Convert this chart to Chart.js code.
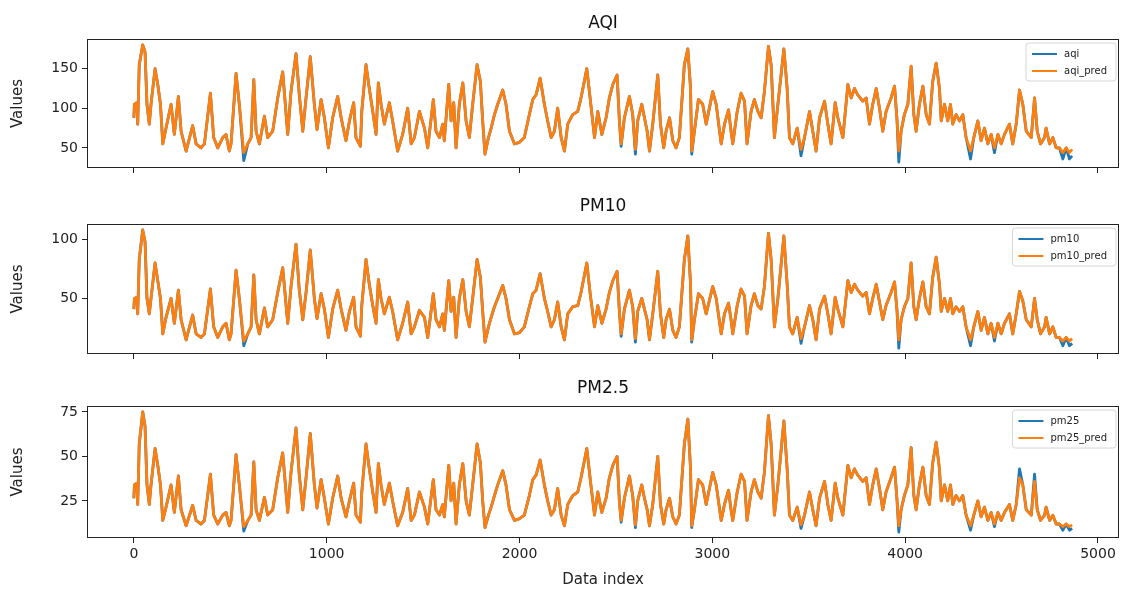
<!DOCTYPE html>
<html>
<head>
<meta charset="utf-8">
<script src="https://cdn.jsdelivr.net/npm/chart.js@4"></script>
<style>
  body { margin: 0; background: #fff; }
  .panel { position: absolute; left: 0; }
</style>
</head>
<body>
<canvas id="aqiChart" class="panel" width="1121" height="185" style="top:0px"></canvas>
<canvas id="pm10Chart" class="panel" width="1121" height="185" style="top:185px"></canvas>
<canvas id="pm25Chart" class="panel" width="1121" height="222" style="top:370px"></canvas>
<script>
// x positions (data index)
const dataIndex = [
  0,3,16,20,28,46,58,68,80,89,
  110,124,138,150,167,193,210,231,245,271,
  305,323,348,366,397,414,435,461,478,495,
  504,530,547,570,591,608,622,634,651,677,
  694,720,746,772,798,815,841,858,876,893,
  915,936,950,971,988,1009,1031,1057,1075,1100,
  1118,1140,1152,1175,1182,1204,1221,1239,1256,1268,
  1282,1299,1325,1342,1368,1394,1420,1438,1455,1481,
  1507,1524,1553,1567,1585,1602,1610,1633,1645,1659,
  1671,1688,1706,1723,1740,1757,1780,1797,1809,1821,
  1839,1853,1870,1887,1913,1930,1948,1974,2000,2025,
  2051,2069,2086,2107,2129,2146,2164,2181,2198,2216,
  2233,2250,2276,2302,2319,2349,2368,2389,2406,2427,
  2449,2466,2484,2506,2518,2527,2544,2570,2587,2601,
  2613,2634,2648,2662,2674,2691,2717,2731,2748,2760,
  2778,2795,2812,2829,2855,2873,2887,2893,2907,2928,
  2950,2968,3002,3020,3046,3063,3084,3097,3106,3129,
  3149,3167,3180,3201,3218,3236,3253,3270,3291,3305,
  3322,3340,3371,3388,3400,3417,3440,3460,3478,3504,
  3521,3538,3556,3582,3599,3616,3637,3651,3677,3703,
  3720,3737,3754,3780,3798,3815,3832,3850,3867,3884,
  3901,3927,3945,3958,3967,3979,3996,4014,4031,4045,
  4057,4074,4092,4109,4126,4143,4161,4178,4187,4204,
  4221,4235,4247,4264,4282,4299,4316,4339,4356,4377,
  4394,4411,4429,4446,4463,4481,4498,4515,4541,4558,
  4576,4593,4610,4628,4654,4671,4685,4702,4723,4731,
  4749,4766,4783,4800,4818,4835,4852,4866
];

const aqi = [
  88,105,107,80,155,180,171,105,80,105,
  150,130,105,55,75,105,67,115,71,46,
  78,55,50,55,119,63,50,63,67,46,
  55,144,105,34,55,63,136,71,55,90,
  63,71,113,146,67,121,169,117,71,113,
  165,105,73,111,88,50,88,115,88,59,
  84,107,63,52,96,155,125,96,67,132,
  105,80,107,84,46,67,100,55,63,96,
  75,50,111,71,63,80,59,130,84,107,
  50,105,132,84,63,105,155,134,84,42,
  63,75,92,105,123,105,71,55,57,63,
  92,111,117,138,105,84,63,71,100,63,
  46,80,92,96,113,150,109,63,96,67,
  88,113,130,142,84,52,88,115,92,42,
  84,105,88,71,46,80,142,80,50,71,
  88,59,50,63,155,175,125,42,71,111,
  105,80,121,105,55,80,98,71,55,96,
  119,109,55,96,111,96,88,121,178,155,
  63,105,175,125,63,55,75,40,63,96,
  71,46,88,109,80,55,107,88,63,130,
  113,125,117,109,113,80,105,125,100,71,
  96,113,128,84,32,71,92,105,153,92,
  71,105,128,92,80,134,157,125,84,105,
  84,105,80,92,84,92,63,36,63,84,
  59,75,55,67,44,67,55,67,80,55,
  80,123,105,71,63,113,71,55,63,75,
  55,63,50,50,36,50,36,40
];
// where the prediction stays above the actual dips: [data index, value]
const aqiPredDiff = [[570,44],[2527,55],[2601,48],[2893,46],[3460,48],[3967,46],[4339,46],[4463,50],[4818,44],[4852,44],[4866,48]];

const pm10 = [
  41,50,51,37,83,108,98,50,37,50,
  80,65,50,20,34,50,29,57,32,15,
  36,20,17,20,58,26,17,26,29,15,
  20,74,50,10,20,26,70,32,20,42,
  26,32,55,76,29,60,96,57,32,55,
  91,50,33,54,41,17,41,57,41,23,
  39,51,26,18,44,83,62,44,29,66,
  50,37,51,39,15,29,47,20,26,40,
  34,17,54,32,26,37,23,65,39,51,
  17,50,66,39,26,50,83,68,39,13,
  26,34,43,50,61,50,32,20,21,26,
  43,54,57,71,50,39,26,32,47,26,
  15,37,43,44,55,80,52,26,44,29,
  41,55,65,73,39,18,41,57,43,13,
  39,50,41,32,15,37,73,37,17,32,
  41,23,17,26,83,103,62,13,32,54,
  50,37,60,50,20,37,46,32,20,44,
  58,52,20,44,54,44,41,60,105,83,
  26,50,103,62,26,20,34,12,26,44,
  32,15,41,52,37,20,51,41,26,65,
  55,62,57,52,55,37,50,62,47,32,
  44,55,64,39,8,32,43,50,80,43,
  32,50,64,43,37,68,85,62,39,50,
  39,50,37,43,39,43,26,10,26,39,
  23,34,20,29,14,29,20,29,37,20,
  37,56,48,32,26,50,32,20,26,34,
  20,26,17,17,10,17,10,12
];
const pm10PredDiff = [[570,14],[2527,20],[2601,16],[2893,15],[3460,16],[3967,15],[4339,15],[4463,17],[4818,14],[4852,14],[4866,16]];

const pm25 = [
  26.5,34,35,23,57,75,67,34,23,34,
  54.5,45,34,14,21.5,34,18.5,39,20,11,
  22.5,14,12,14,40,17,12,17,18.5,11,
  14,51,34,8,14,17,47,20,14,27,
  17,20,38,52,18.5,41,66,39.5,20,38,
  63,34,21,37,26.5,12,26.5,39,26.5,16,
  25,35,17,13,30,57,43,30,18.5,46,
  34,23,35,25,11,18.5,32,14,17,30,
  21.5,12,37,20,17,23,16,45,25,35,
  12,34,46,25,17,34,57,46.5,25,10,
  17,21.5,28,34,42,34,20,14,15,17,
  28,37,39.5,48,34,25,17,20,32,17,
  11,23,28,30,38,54.5,36,17,30,18.5,
  26.5,38,45,50,25,13,26.5,39,28,10,
  25,34,26.5,20,11,23,50,23,12,20,
  26.5,16,12,17,57,71,43,10,20,37,
  34,23,41,34,14,23,31,20,14,30,
  40,36,14,30,37,30,26.5,41,73,57,
  17,34,70,43,17,14,21.5,9.5,17,30,
  20,11,26.5,36,23,14,35,26.5,17,45,
  38,43,39.5,36,38,23,34,43,32,20,
  30,38,44,25,7.5,20,28,34,55,28,
  20,34,44,28,23,46.5,58,43,25,34,
  25,34,23,28,25,28,17,8.5,17,25,
  16,21.5,14,18.5,10.5,18.5,14,18.5,23,14,
  23,43,34,20,17,40,20,14,17,21.5,
  14,17,12,12,8.5,12,8.5,9.5
];
const pm25PredDiff = [[570,10.5],[2527,14],[2601,11.5],[2893,11],[3460,11.5],[3967,11],[4339,11],[4463,12],[4593,38],[4671,36],[4818,10.5],[4852,10.5],[4866,11.5]];

const xTicks = [0, 1000, 2000, 3000, 4000, 5000];
const aqiTicks = [50, 100, 150];
const pm10Ticks = [50, 100];
const pm25Ticks = [25, 50, 75];

const BLUE = '#1f77b4';
const ORANGE = '#ff7f0e';
const FONT = 'DejaVu Sans';

function points(vals, diff) {
  const fix = new Map(diff);
  return dataIndex.map((x, i) => ({ x: x, y: fix.has(x) ? fix.get(x) : vals[i] }));
}

function yRange(a, b) {
  let lo = Math.min(...a), hi = Math.max(...a);
  b.forEach(p => { lo = Math.min(lo, p.y); hi = Math.max(hi, p.y); });
  const m = (hi - lo) * 0.05;
  return [lo - m, hi + m];
}

// frame, title and the small legend inside the axes, matplotlib style
const panelDecor = {
  id: 'panelDecor',
  afterDraw(chart, args, opts) {
    const { ctx, chartArea: a } = chart;
    ctx.save();
    ctx.strokeStyle = '#222';
    ctx.lineWidth = 1;
    ctx.strokeRect(a.left + 0.5, a.top + 0.5, a.right - a.left - 1, a.bottom - a.top - 1);

    ctx.fillStyle = '#111';
    ctx.font = '17px "' + FONT + '"';
    ctx.textAlign = 'center';
    ctx.textBaseline = 'middle';
    ctx.fillText(opts.title, (a.left + a.right) / 2, a.top - opts.titleGap);

    ctx.font = '10px "' + FONT + '"';
    const tw = Math.max(...opts.names.map(n => ctx.measureText(n).width));
    const w = 8 + 25 + 8 + tw + 6, h = 38;
    const x0 = a.right - 3 - w, y0 = a.top + 4;
    ctx.beginPath();
    ctx.roundRect(x0, y0, w, h, 3);
    ctx.fillStyle = 'rgba(255,255,255,0.8)';
    ctx.fill();
    ctx.strokeStyle = '#d6d6d6';
    ctx.stroke();
    ctx.textAlign = 'left';
    [BLUE, ORANGE].forEach((c, i) => {
      const yy = y0 + 11 + i * 17;
      ctx.strokeStyle = c;
      ctx.lineWidth = 2;
      ctx.beginPath();
      ctx.moveTo(x0 + 6, yy);
      ctx.lineTo(x0 + 31, yy);
      ctx.stroke();
      ctx.fillStyle = '#222';
      ctx.fillText(opts.names[i], x0 + 38, yy);
    });
    ctx.restore();
  }
};

function makePanel(id, title, actual, predDiff, names, yTicks, showX, padTop, xHeight, titleGap) {
  const actualPts = points(actual, []);
  const predPts = points(actual, predDiff);
  const range = yRange(actual, predPts);
  const tickFont = { family: FONT, size: 14 };
  return new Chart(document.getElementById(id), {
    type: 'line',
    data: {
      datasets: [
        { label: names[0], data: actualPts, borderColor: BLUE, borderWidth: 2.8, order: 2 },
        { label: names[1], data: predPts, borderColor: ORANGE, borderWidth: 2.8, order: 1 }
      ]
    },
    options: {
      responsive: false,
      animation: false,
      devicePixelRatio: 1,
      parsing: false,
      elements: { point: { radius: 0 }, line: { tension: 0, borderJoinStyle: 'round' } },
      layout: { padding: { top: padTop, right: 2, left: 0, bottom: 0 } },
      plugins: {
        legend: { display: false },
        tooltip: { enabled: false },
        panelDecor: { title: title, names: names, titleGap: titleGap }
      },
      scales: {
        x: {
          type: 'linear',
          min: -243,
          max: 5109,
          afterFit: s => { s.height = xHeight; },
          afterBuildTicks: s => { s.ticks = xTicks.map(v => ({ value: v })); },
          ticks: { display: showX, font: tickFont, color: '#222', padding: 3, maxRotation: 0, callback: v => String(v) },
          grid: { drawOnChartArea: false, tickLength: 5, color: '#222' },
          border: { display: false },
          title: { display: showX, text: 'Data index', font: { family: FONT, size: 15 }, color: '#222', padding: { top: 2, bottom: 3 } }
        },
        y: {
          type: 'linear',
          min: range[0],
          max: range[1],
          afterFit: s => { s.width = 87; },
          afterBuildTicks: s => { s.ticks = yTicks.map(v => ({ value: v })); },
          ticks: { font: tickFont, color: '#222', padding: 4, callback: v => String(v) },
          grid: { drawOnChartArea: false, tickLength: 5, color: '#222' },
          border: { display: false },
          title: { display: true, text: 'Values', font: { family: FONT, size: 15 }, color: '#222', padding: { top: 9, bottom: 0 } }
        }
      }
    },
    plugins: [panelDecor]
  });
}

makePanel('aqiChart', 'AQI', aqi, aqiPredDiff, ['aqi', 'aqi_pred'], aqiTicks, false, 39, 17, 15);
makePanel('pm10Chart', 'PM10', pm10, pm10PredDiff, ['pm10', 'pm10_pred'], pm10Ticks, false, 39, 16, 17);
makePanel('pm25Chart', 'PM2.5', pm25, pm25PredDiff, ['pm25', 'pm25_pred'], pm25Ticks, true, 36, 54, 17);
</script>
</body>
</html>
